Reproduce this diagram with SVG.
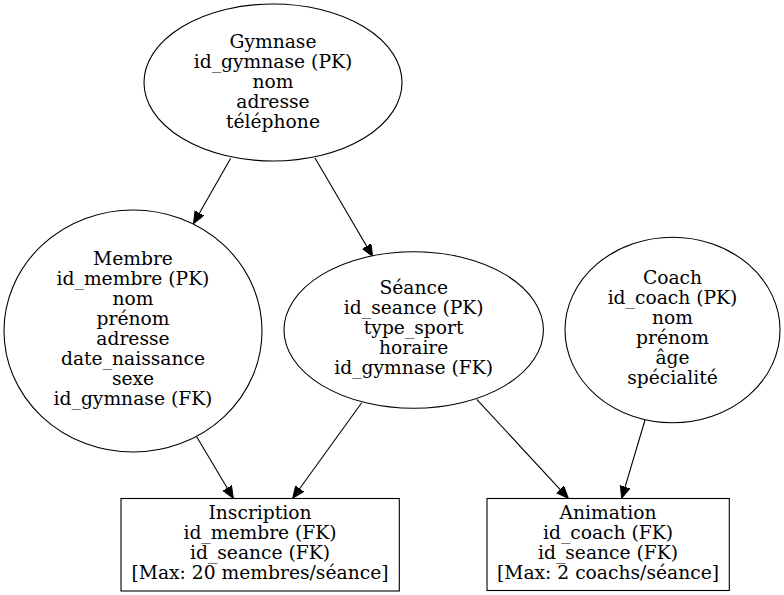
<svg xmlns="http://www.w3.org/2000/svg" width="784" height="595" viewBox="0 0 784 595">
<style>
.n{fill:#fff;stroke:#000;stroke-width:1.1}
.t{font-family:"DejaVu Serif","Liberation Serif",serif;font-size:18.7px;text-anchor:middle;fill:#000}
.e{stroke:#000;stroke-width:1.1;fill:none}
</style>
<defs>
<marker id="ar" markerUnits="userSpaceOnUse" markerWidth="14" markerHeight="12" refX="12" refY="5" orient="auto" viewBox="0 0 14 12">
<polygon points="0,0 12,5 0,10" fill="#000" stroke="#000" stroke-width="1"/>
</marker>
</defs>
<rect width="784" height="595" fill="#fff"/>
<g id="connectors">
<line class="e" x1="230.7" y1="158.3" x2="193.5" y2="223.5" marker-end="url(#ar)"/>
<line class="e" x1="315" y1="158" x2="372.7" y2="256.5" marker-end="url(#ar)"/>
<line class="e" x1="196.7" y1="436.7" x2="233.3" y2="498.3" marker-end="url(#ar)"/>
<line class="e" x1="361.7" y1="402.7" x2="292.7" y2="498.3" marker-end="url(#ar)"/>
<line class="e" x1="476.7" y1="399.3" x2="568.3" y2="498.3" marker-end="url(#ar)"/>
<line class="e" x1="645" y1="420" x2="621.7" y2="498.3" marker-end="url(#ar)"/>
</g>
<g id="gymnase">
<ellipse class="n" cx="273" cy="82.5" rx="129" ry="78.5"/>
<text class="t" x="273" y="48">Gymnase</text>
<text class="t" x="273" y="68">id_gymnase (PK)</text>
<text class="t" x="273" y="88">nom</text>
<text class="t" x="273" y="108">adresse</text>
<text class="t" x="273" y="128">téléphone</text>
</g>
<g id="membre">
<ellipse class="n" cx="133" cy="331" rx="129" ry="121"/>
<text class="t" x="133" y="265">Membre</text>
<text class="t" x="133" y="285">id_membre (PK)</text>
<text class="t" x="133" y="305">nom</text>
<text class="t" x="133" y="325">prénom</text>
<text class="t" x="133" y="345">adresse</text>
<text class="t" x="133" y="365">date_naissance</text>
<text class="t" x="133" y="385">sexe</text>
<text class="t" x="133" y="405">id_gymnase (FK)</text>
</g>
<g id="seance">
<ellipse class="n" cx="413.7" cy="330" rx="129.7" ry="78.3"/>
<text class="t" x="413.7" y="294">Séance</text>
<text class="t" x="413.7" y="314">id_seance (PK)</text>
<text class="t" x="413.7" y="334">type_sport</text>
<text class="t" x="413.7" y="354">horaire</text>
<text class="t" x="413.7" y="374">id_gymnase (FK)</text>
</g>
<g id="coach">
<ellipse class="n" cx="672.5" cy="330" rx="107.5" ry="92.7"/>
<text class="t" x="672.5" y="284">Coach</text>
<text class="t" x="672.5" y="304">id_coach (PK)</text>
<text class="t" x="672.5" y="324">nom</text>
<text class="t" x="672.5" y="344">prénom</text>
<text class="t" x="672.5" y="364">âge</text>
<text class="t" x="672.5" y="384">spécialité</text>
</g>
<g id="inscription">
<rect class="n" x="121" y="498.5" width="278.3" height="92.5"/>
<text class="t" x="260" y="519">Inscription</text>
<text class="t" x="260" y="539">id_membre (FK)</text>
<text class="t" x="260" y="559">id_seance (FK)</text>
<text class="t" x="260" y="579">[Max: 20 membres/séance]</text>
</g>
<g id="animation">
<rect class="n" x="487" y="498.5" width="242.3" height="92"/>
<text class="t" x="608" y="519">Animation</text>
<text class="t" x="608" y="539">id_coach (FK)</text>
<text class="t" x="608" y="559">id_seance (FK)</text>
<text class="t" x="608" y="579">[Max: 2 coachs/séance]</text>
</g>
</svg>
